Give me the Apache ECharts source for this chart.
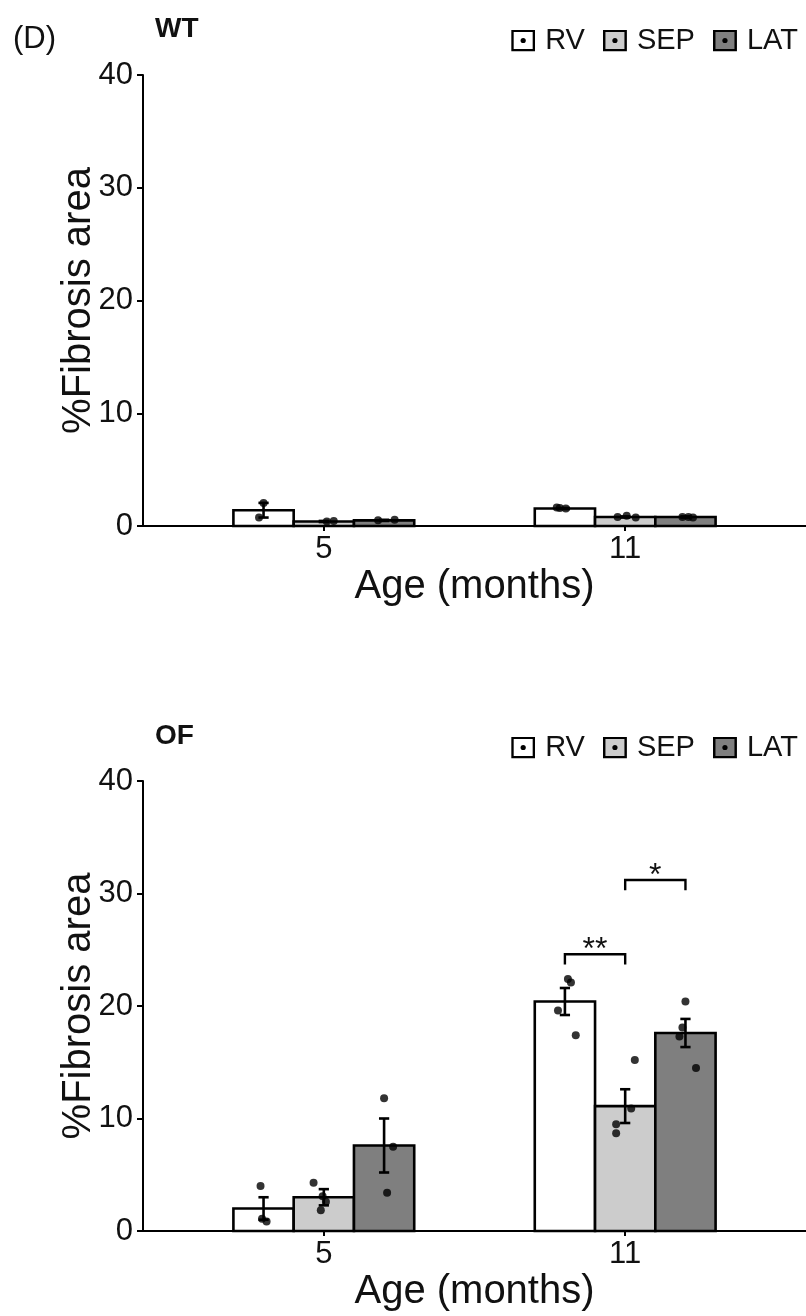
<!DOCTYPE html>
<html>
<head>
<meta charset="utf-8">
<script src="https://cdn.jsdelivr.net/npm/echarts@6/dist/echarts.min.js"></script>
<style>
  html, body { margin: 0; padding: 0; background: #ffffff; }
  #chart { width: 806px; height: 1316px; }
</style>
</head>
<body>
<div id="chart"></div>
<script>
// ---- categories & labels ----
const ages = ['5', '11'];
const regions = ['RV', 'SEP', 'LAT'];
const regionFill = ['#ffffff', '#cccccc', '#7f7f7f'];
const yTicks = [0, 10, 20, 30, 40];

// ---- WT: mean and SE per age (5, 11 months) ----
const wtMeanRV = [1.4, 1.55];
const wtSeRV = [0.65, 0.05];
const wtMeanSEP = [0.4, 0.8];
const wtSeSEP = [0.05, 0.05];
const wtMeanLAT = [0.5, 0.8];
const wtSeLAT = [0.05, 0.05];

// ---- WT: individual animals ----
const wtDotsRV = [[2.05, 0.75], [1.65, 1.6, 1.55]];
const wtDotsSEP = [[0.4, 0.45], [0.8, 0.9, 0.75]];
const wtDotsLAT = [[0.5, 0.55], [0.8, 0.75, 0.8]];
const wtJitterRV = [[0.0, -0.015], [-0.027, -0.017, 0.003]];
const wtJitterSEP = [[0.01, 0.033], [-0.025, 0.005, 0.035]];
const wtJitterLAT = [[-0.02, 0.035], [0.01, 0.025, -0.01]];

// ---- OF: mean and SE per age ----
const ofMeanRV = [2.0, 20.4];
const ofSeRV = [1.0, 1.2];
const ofMeanSEP = [3.0, 11.1];
const ofSeSEP = [0.72, 1.5];
const ofMeanLAT = [7.6, 17.6];
const ofSeLAT = [2.4, 1.25];

// ---- OF: individual animals ----
const ofDotsRV = [[4.0, 1.1, 0.85], [22.4, 22.1, 19.6, 17.4]];
const ofDotsSEP = [[4.3, 3.1, 2.6, 1.85], [15.2, 10.9, 9.5, 8.7]];
const ofDotsLAT = [[11.8, 7.5, 3.4], [20.4, 18.1, 17.3, 14.5]];
const ofJitterRV = [[-0.01, -0.005, 0.01], [0.01, 0.02, -0.023, 0.036]];
const ofJitterSEP = [[-0.034, -0.004, 0.007, -0.01], [0.032, 0.02, -0.03, -0.03]];
const ofJitterLAT = [[0.0, 0.03, 0.01], [0.0, -0.01, -0.02, 0.035]];

// ---- OF: pairwise comparisons at 11 months ----
const sigAge = [2, 2];
const sigFrom = ['RV', 'SEP'];
const sigTo = ['SEP', 'LAT'];
const sigY = [24.6, 31.2];
const sigLabel = ['**', '*'];

// ---- drawing constants ----
const FONT = '"Liberation Sans", Arial, Helvetica, sans-serif';
const TEXT = '#111111';
const DODGE = 0.2;      // distance between neighbouring bars (x units)
const BAR_W = 0.2;      // bar width (x units)
const CAP_W = 0.034;    // error-bar cap width (x units)
const LEG_DROP = 0.9;   // bracket leg length (y units)

function regionX(ageIdx, regionIdx) {
  return (ageIdx + 1) + (regionIdx - 1) * DODGE;
}

function legendIcon(fill) {
  const svg = '<svg xmlns="http://www.w3.org/2000/svg" width="24" height="22" viewBox="0 0 24 22">' +
    '<rect x="1.25" y="1.25" width="21.5" height="19.5" fill="' + fill + '" stroke="#000" stroke-width="2.5"/>' +
    '<circle cx="12" cy="11" r="2.6" fill="#000"/></svg>';
  return 'image://data:image/svg+xml;charset=utf-8,' + encodeURIComponent(svg);
}

function barRenderer(fill) {
  return function (params, api) {
    const x = api.value(0), v = api.value(1);
    const a = api.coord([x - BAR_W / 2, v]);
    const b = api.coord([x + BAR_W / 2, 0]);
    return {
      type: 'rect',
      shape: { x: a[0], y: a[1], width: b[0] - a[0], height: b[1] - a[1] },
      style: { fill: fill, stroke: '#000', lineWidth: 2.6 }
    };
  };
}

function errRenderer(params, api) {
  const x = api.value(0), lo = api.value(1), hi = api.value(2);
  const pLo = api.coord([x, lo]), pHi = api.coord([x, hi]);
  const l = api.coord([x - CAP_W / 2, lo])[0], r = api.coord([x + CAP_W / 2, lo])[0];
  const st = { stroke: '#000', lineWidth: 2.6 };
  return {
    type: 'group',
    children: [
      { type: 'line', shape: { x1: pLo[0], y1: pLo[1], x2: pHi[0], y2: pHi[1] }, style: st },
      { type: 'line', shape: { x1: l, y1: pLo[1], x2: r, y2: pLo[1] }, style: st },
      { type: 'line', shape: { x1: l, y1: pHi[1], x2: r, y2: pHi[1] }, style: st }
    ]
  };
}

function sigRenderer(params, api) {
  const x1 = api.value(0), x2 = api.value(1), y = api.value(2);
  const a = api.coord([x1, y - LEG_DROP]), b = api.coord([x1, y]);
  const c = api.coord([x2, y]), d = api.coord([x2, y - LEG_DROP]);
  const label = sigLabel[params.dataIndex];
  return {
    type: 'group',
    children: [
      { type: 'polyline', shape: { points: [a, b, c, d] }, style: { stroke: '#000', lineWidth: 2.4, fill: null } },
      { type: 'text', x: (b[0] + c[0]) / 2, y: b[1] + 12,
        style: { text: label, font: '32px ' + FONT, fill: TEXT, align: 'center', verticalAlign: 'bottom' } }
    ]
  };
}

function buildPanel(idx, means, ses, dots, jitters) {
  const series = [];
  regions.forEach(function (r, ri) {
    series.push({
      name: r, type: 'custom', xAxisIndex: idx, yAxisIndex: idx,
      renderItem: barRenderer(regionFill[ri]),
      itemStyle: { color: regionFill[ri], borderColor: '#000' },
      encode: { x: 0, y: 1 },
      data: means[ri].map(function (m, ai) { return [regionX(ai, ri), m]; }),
      z: 2
    });
  });
  const errData = [];
  regions.forEach(function (r, ri) {
    means[ri].forEach(function (m, ai) {
      errData.push([regionX(ai, ri), m - ses[ri][ai], m + ses[ri][ai]]);
    });
  });
  series.push({
    type: 'custom', xAxisIndex: idx, yAxisIndex: idx, renderItem: errRenderer,
    encode: { x: 0, y: [1, 2] }, data: errData, z: 3, silent: true
  });
  const dotData = [];
  regions.forEach(function (r, ri) {
    dots[ri].forEach(function (vals, ai) {
      vals.forEach(function (v, k) {
        dotData.push([regionX(ai, ri) + jitters[ri][ai][k], v]);
      });
    });
  });
  series.push({
    type: 'scatter', xAxisIndex: idx, yAxisIndex: idx, data: dotData,
    symbol: 'circle', symbolSize: 8, itemStyle: { color: '#000' }, z: 4, silent: true
  });
  return series;
}

function xAxisFor(idx) {
  return {
    gridIndex: idx, type: 'value', min: 0.4, max: 2.6,
    axisLine: { show: true, onZero: false, lineStyle: { color: '#000', width: 2 } },
    axisTick: { show: true, customValues: [1, 2], length: 5, lineStyle: { color: '#000', width: 2 } },
    axisLabel: {
      customValues: [1, 2], margin: 8, fontSize: 31, color: TEXT, fontFamily: FONT,
      formatter: function (v) { return ages[Math.round(v) - 1]; }
    },
    splitLine: { show: false },
    name: 'Age (months)', nameLocation: 'middle', nameGap: 41,
    nameTextStyle: { fontSize: 40, color: TEXT, fontFamily: FONT }
  };
}

function yAxisFor(idx) {
  return {
    gridIndex: idx, type: 'value', min: yTicks[0], max: yTicks[yTicks.length - 1], interval: 10,
    axisLine: { show: true, onZero: false, lineStyle: { color: '#000', width: 2 } },
    axisTick: { show: true, length: 6, lineStyle: { color: '#000', width: 2 } },
    axisLabel: { margin: 10, fontSize: 31, color: TEXT, fontFamily: FONT },
    splitLine: { show: false },
    name: '%Fibrosis area', nameLocation: 'middle', nameGap: 44, nameMoveOverlap: false,
    nameTextStyle: { fontSize: 40, color: TEXT, fontFamily: FONT }
  };
}

function legendFor(top) {
  return {
    top: top, right: 3, orient: 'horizontal', selectedMode: false,
    itemWidth: 24, itemHeight: 22, itemGap: 18,
    textStyle: { fontSize: 29, color: TEXT, fontFamily: FONT, padding: [0, 0, 0, 5] },
    data: regions.map(function (r, ri) { return { name: r, icon: legendIcon(regionFill[ri]) }; })
  };
}

const wtSeries = buildPanel(0,
  [wtMeanRV, wtMeanSEP, wtMeanLAT], [wtSeRV, wtSeSEP, wtSeLAT],
  [wtDotsRV, wtDotsSEP, wtDotsLAT], [wtJitterRV, wtJitterSEP, wtJitterLAT]);
const ofSeries = buildPanel(1,
  [ofMeanRV, ofMeanSEP, ofMeanLAT], [ofSeRV, ofSeSEP, ofSeLAT],
  [ofDotsRV, ofDotsSEP, ofDotsLAT], [ofJitterRV, ofJitterSEP, ofJitterLAT]);

const sigSeries = {
  type: 'custom', xAxisIndex: 1, yAxisIndex: 1, renderItem: sigRenderer,
  encode: { x: [0, 1], y: 2 }, silent: true, z: 5,
  data: sigY.map(function (y, i) {
    return [regionX(sigAge[i] - 1, regions.indexOf(sigFrom[i])),
            regionX(sigAge[i] - 1, regions.indexOf(sigTo[i])), y];
  })
};

const chart = echarts.init(document.getElementById('chart'), null, { renderer: 'canvas' });
chart.setOption({
  backgroundColor: '#ffffff',
  animation: false,
  textStyle: { fontFamily: FONT },
  title: [
    { text: '(D)', left: 8, top: 19, textStyle: { fontSize: 31, fontWeight: 'normal', color: TEXT, fontFamily: FONT } },
    { text: 'WT', left: 150, top: 10, textStyle: { fontSize: 28, fontWeight: 'bold', color: TEXT, fontFamily: FONT } },
    { text: 'OF', left: 150, top: 717, textStyle: { fontSize: 28, fontWeight: 'bold', color: TEXT, fontFamily: FONT } }
  ],
  legend: [legendFor(21), legendFor(728)],
  grid: [
    { left: 143, right: 0, top: 75, height: 451 },
    { left: 143, right: 0, top: 781, height: 450 }
  ],
  xAxis: [xAxisFor(0), xAxisFor(1)],
  yAxis: [yAxisFor(0), yAxisFor(1)],
  series: wtSeries.concat(ofSeries, [sigSeries])
});
</script>
</body>
</html>
